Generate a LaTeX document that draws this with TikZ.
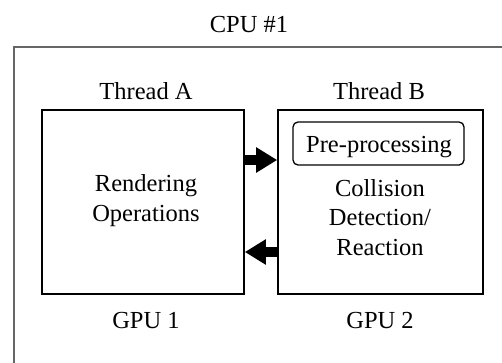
\documentclass[tikz,border=0pt]{standalone}
\usepackage{fontspec}
\setmainfont{Liberation Serif}
\usetikzlibrary{arrows.meta}
\begin{document}
\begin{tikzpicture}[x=1pt,y=-1pt,
  lbl/.style={font=\fontsize{24.5}{29.5}\selectfont, inner sep=0pt, anchor=base, align=center},
  gpubox/.style={draw=black, line width=1.6pt, inner sep=0pt, minimum height=184pt},
  prebox/.style={draw=black, line width=1.3pt, rounded corners=5pt, inner sep=0pt, minimum width=171pt, minimum height=43pt},
  cpubox/.style={draw=black!60, line width=2.2pt},
  bigarrow/.style={line width=10pt, -{Triangle[length=21pt,width=24pt]}}]
\path[use as bounding box] (0,0) rectangle (502,362);
\clip (0,0) rectangle (502,362);
\fill[white] (0,0) rectangle (502,362);
% outer CPU box (extends beyond the picture)
\draw[cpubox] (14,47) rectangle (530,400);
\node[lbl] (cpu) at (249,32) {CPU \#1};
% GPU boxes
\node[gpubox, minimum width=202pt] (A) at (143,202) {};
\node[gpubox, minimum width=205pt] (B) at (380.5,202) {};
\node[lbl] (ta) at (146,99) {Thread A};
\node[lbl] (tb) at (379,99) {Thread B};
\node[lbl] (g1) at (146,328) {GPU 1};
\node[lbl] (g2) at (380,328) {GPU 2};
% contents
\node[prebox] (pre) at (378.5,143.5) {};
\node[lbl] (pret) at (379,152) {Pre-processing};
\node[lbl] (rend) at (146,221) {Rendering\\Operations};
\node[lbl] (coll) at (380,255) {Collision\\Detection/\\Reaction};
% arrows
\draw[bigarrow] (A.east |- 0,160) -- (B.west |- 0,160);
\draw[bigarrow] (B.west |- 0,252) -- (A.east |- 0,252);
\end{tikzpicture}
\end{document}
